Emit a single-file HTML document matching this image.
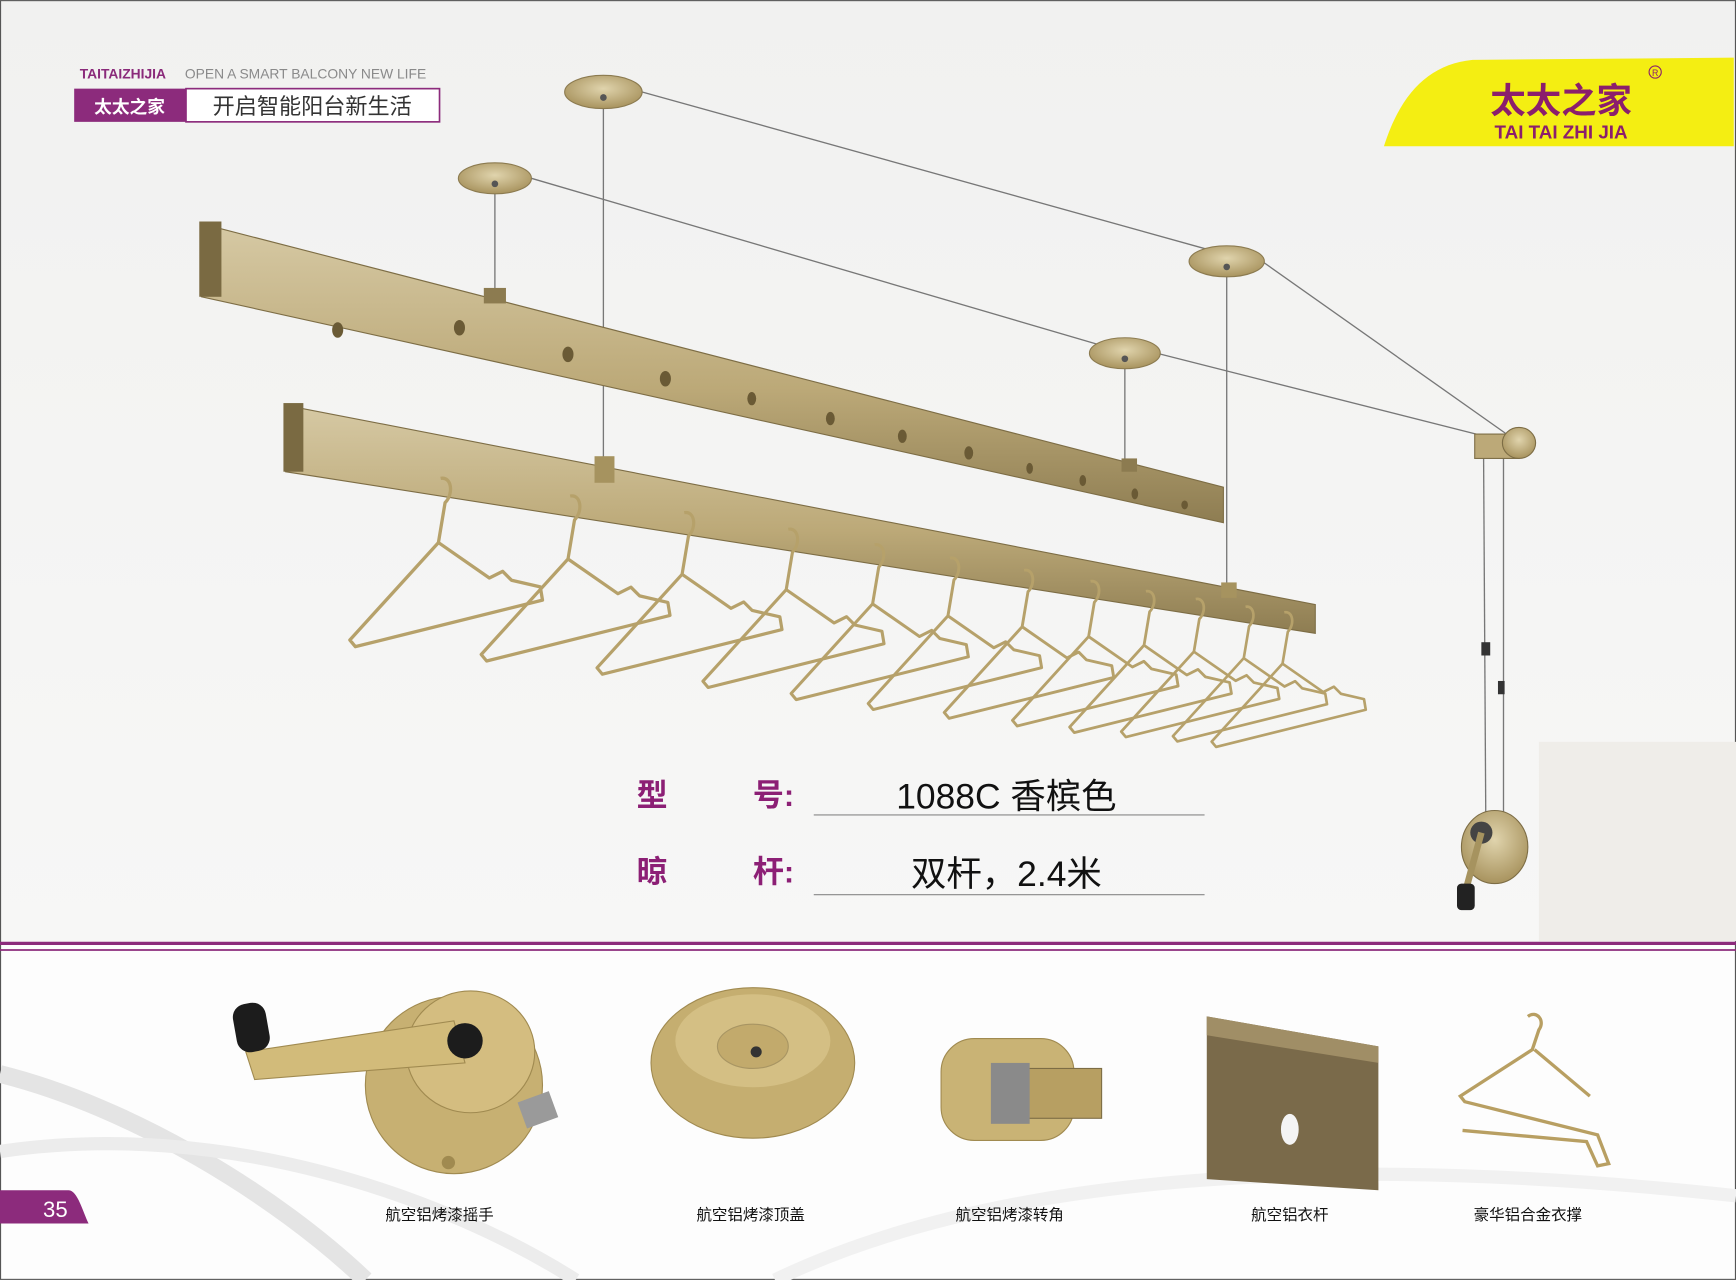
<!DOCTYPE html>
<html><head><meta charset="utf-8"><style>
html,body{margin:0;padding:0;background:#fff}
svg{display:block}
text{font-family:"Liberation Sans","Noto Sans CJK SC",sans-serif}
</style></head><body>
<svg width="1736" height="1280" viewBox="0 0 1568 1156" xmlns="http://www.w3.org/2000/svg">
<defs>
<linearGradient id="bg" x1="0" y1="0" x2="0" y2="1"><stop offset="0" stop-color="#f1f1f0"/><stop offset="1" stop-color="#f7f7f6"/></linearGradient>
<linearGradient id="rail" x1="0" y1="0" x2="0" y2="1"><stop offset="0" stop-color="#d6c9a4"/><stop offset="0.55" stop-color="#bca978"/><stop offset="1" stop-color="#8e7d52"/></linearGradient>
<radialGradient id="disc" cx="0.5" cy="0.4" r="0.6"><stop offset="0" stop-color="#e0d4ad"/><stop offset="1" stop-color="#a8935e"/></radialGradient>
<path id="hg" d="M0 0 c10 -2 12 14 4 22 L-2 58 L-82 146 L-77 152 L92 110 L90 98 L64 92 L56 84 L44 90 L-2 58" fill="none" stroke="#b6a16a" stroke-width="3" stroke-linejoin="round"/>
</defs>
<rect x="0" y="0" width="1568" height="852" fill="url(#bg)"/>
<rect x="0" y="852" width="1568" height="304" fill="#fdfdfd"/>
<rect x="0.5" y="0.5" width="1567" height="1155" fill="none" stroke="#555" stroke-width="1"/>
<path d="M0 970 C120 1000 250 1080 330 1156" fill="none" stroke="#e4e4e4" stroke-width="16"/>
<path d="M0 1040 C200 1010 400 1080 520 1156" fill="none" stroke="#ececec" stroke-width="12"/>
<path d="M700 1156 C900 1060 1200 1040 1568 1080" fill="none" stroke="#f1f1f1" stroke-width="12"/>
<rect x="1390" y="670" width="178" height="180" fill="#efede9"/>
<!-- header -->
<text x="72" y="71" font-size="12.5" fill="#8a2a7a" font-weight="bold">TAITAIZHIJIA</text>
<text x="167" y="71" font-size="12.5" fill="#8a8a8a">OPEN A SMART BALCONY NEW LIFE</text>
<rect x="67" y="80" width="101" height="30" fill="#8c2b7c"/>
<text x="117" y="102" font-size="16" fill="#fff" font-weight="bold" text-anchor="middle">太太之家</text>
<rect x="168" y="80" width="229" height="30" fill="#fff" stroke="#8c2b7c" stroke-width="1.5"/>
<text x="282" y="103" font-size="20" fill="#333" text-anchor="middle">开启智能阳台新生活</text>
<!-- logo -->
<path d="M1250 132 C1265 85 1290 58 1330 54 L1566 52 L1566 132 Z" fill="#f4ee12"/>
<text x="1410" y="102" font-size="32" font-weight="bold" fill="#8b1e6c" text-anchor="middle">太太之家</text>
<text x="1410" y="125" font-size="17" font-weight="bold" fill="#8b1e6c" text-anchor="middle">TAI TAI ZHI JIA</text>
<circle cx="1495" cy="65" r="5.5" fill="none" stroke="#8b1e6c" stroke-width="1"/>
<text x="1495" y="68.5" font-size="8" fill="#8b1e6c" text-anchor="middle">R</text>
<!-- cables -->
<g stroke="#777" stroke-width="1.2" fill="none">
<line x1="580" y1="83" x2="1090" y2="225"/>
<line x1="480" y1="161" x2="995" y2="312"/>
<line x1="1140" y1="236" x2="1365" y2="395"/>
<line x1="1045" y1="319" x2="1345" y2="395"/>
<line x1="545" y1="97" x2="545" y2="415"/>
<line x1="447" y1="175" x2="447" y2="262"/>
<line x1="1108" y1="250" x2="1108" y2="530"/>
<line x1="1016" y1="333" x2="1016" y2="420"/>
<line x1="1340" y1="410" x2="1342" y2="740"/>
<line x1="1358" y1="410" x2="1358" y2="740"/>
</g>
<g fill="url(#disc)" stroke="#8c7b50" stroke-width="1">
<ellipse cx="545" cy="83" rx="35" ry="15"/>
<ellipse cx="447" cy="161" rx="33" ry="14"/>
<ellipse cx="1108" cy="236" rx="34" ry="14"/>
<ellipse cx="1016" cy="319" rx="32" ry="14"/>
</g>
<g fill="#555"><circle cx="545" cy="88" r="3"/><circle cx="447" cy="166" r="3"/><circle cx="1108" cy="241" r="3"/><circle cx="1016" cy="324" r="3"/></g>
<!-- upper rail -->
<polygon points="182,202 1105,440 1105,472 182,268" fill="url(#rail)" stroke="#7d6d45" stroke-width="1"/>
<rect x="180" y="200" width="20" height="68" fill="#7a6a42"/>
<g fill="#6a5a35">
<ellipse cx="305" cy="298" rx="5" ry="7"/><ellipse cx="415" cy="296" rx="5" ry="7"/><ellipse cx="513" cy="320" rx="5" ry="7"/><ellipse cx="601" cy="342" rx="5" ry="7"/><ellipse cx="679" cy="360" rx="4" ry="6"/><ellipse cx="750" cy="378" rx="4" ry="6"/><ellipse cx="815" cy="394" rx="4" ry="6"/><ellipse cx="875" cy="409" rx="4" ry="6"/><ellipse cx="930" cy="423" rx="3" ry="5"/><ellipse cx="978" cy="434" rx="3" ry="5"/><ellipse cx="1025" cy="446" rx="3" ry="5"/><ellipse cx="1070" cy="456" rx="3" ry="4"/>
</g>
<rect x="437" y="260" width="20" height="14" fill="#8c7b50"/>
<rect x="1013" y="414" width="14" height="12" fill="#8c7b50"/>
<!-- lower rail -->
<polygon points="258,366 1188,546 1188,572 258,426" fill="url(#rail)" stroke="#7d6d45" stroke-width="1"/>
<rect x="256" y="364" width="18" height="62" fill="#7a6a42"/>
<rect x="537" y="412" width="18" height="24" fill="#a6935f"/>
<rect x="1103" y="526" width="14" height="14" fill="#a6935f"/>
<!-- hangers -->
<use href="#hg" transform="translate(398 432)"/>
<use href="#hg" transform="translate(515 448) scale(0.98)"/>
<use href="#hg" transform="translate(618 463) scale(0.96)"/>
<use href="#hg" transform="translate(712 478) scale(0.94)"/>
<use href="#hg" transform="translate(790 492) scale(0.92)"/>
<use href="#hg" transform="translate(858 504) scale(0.9)"/>
<use href="#hg" transform="translate(925 515) scale(0.88)"/>
<use href="#hg" transform="translate(985 525) scale(0.86)"/>
<use href="#hg" transform="translate(1035 534) scale(0.84)"/>
<use href="#hg" transform="translate(1080 541) scale(0.82)"/>
<use href="#hg" transform="translate(1125 548) scale(0.8)"/>
<use href="#hg" transform="translate(1160 553) scale(0.8)"/>
<!-- pulley and crank -->
<rect x="1332" y="392" width="40" height="22" fill="#bca978" stroke="#7d6d45"/>
<ellipse cx="1372" cy="400" rx="15" ry="14" fill="url(#disc)" stroke="#7d6d45"/>
<rect x="1338" y="580" width="8" height="12" fill="#333"/><rect x="1353" y="615" width="6" height="12" fill="#333"/>
<ellipse cx="1350" cy="765" rx="30" ry="33" fill="url(#disc)" stroke="#7d6d45"/>
<circle cx="1338" cy="752" r="10" fill="#444"/>
<path d="M1338 752 L1325 800" stroke="#a6935f" stroke-width="6"/>
<rect x="1316" y="798" width="16" height="24" rx="4" fill="#222"/>
<!-- specs -->
<g font-size="28" font-weight="bold" fill="#8c1f75">
<text x="575" y="728">型</text><text x="680" y="728">号:</text>
<text x="575" y="797">晾</text><text x="680" y="797">杆:</text>
</g>
<text x="909" y="730" font-size="32" fill="#111" text-anchor="middle">1088C  香槟色</text>
<text x="909" y="800" font-size="32" fill="#111" text-anchor="middle">双杆，2.4米</text>
<line x1="735" y1="736" x2="1088" y2="736" stroke="#888" stroke-width="1"/>
<line x1="735" y1="808" x2="1088" y2="808" stroke="#888" stroke-width="1"/>
<line x1="0" y1="852" x2="1568" y2="852" stroke="#8c2b7c" stroke-width="3"/>
<line x1="0" y1="858" x2="1568" y2="858" stroke="#8c2b7c" stroke-width="1.5"/>
<!-- products -->
<circle cx="410" cy="980" r="80" fill="#c7b072" stroke="#a08a50"/>
<ellipse cx="425" cy="950" rx="58" ry="55" fill="#d4bd80" stroke="#a08a50"/>
<rect x="470" y="990" width="30" height="25" fill="#9a9a9a" transform="rotate(-20 485 1000)"/>
<polygon points="222,950 410,922 420,960 230,975" fill="#d2bb7a" stroke="#a08a50"/>
<circle cx="420" cy="940" r="16" fill="#1c1c1c"/>
<rect x="212" y="906" width="30" height="44" rx="12" fill="#1c1c1c" transform="rotate(-10 227 928)"/>
<circle cx="405" cy="1050" r="6" fill="#a08a50"/>
<ellipse cx="680" cy="960" rx="92" ry="68" fill="#c5ae70" stroke="#a08a50"/>
<ellipse cx="680" cy="940" rx="70" ry="42" fill="#d4bf84"/>
<ellipse cx="680" cy="945" rx="32" ry="20" fill="#c2aa6c" stroke="#a89563"/>
<circle cx="683" cy="950" r="5" fill="#333"/>
<rect x="850" y="938" width="120" height="92" rx="30" fill="#c9b375" stroke="#a08a50"/>
<rect x="915" y="965" width="80" height="45" fill="#b79f62" stroke="#7d6d45"/>
<rect x="895" y="960" width="35" height="55" fill="#8a8a8a"/>
<polygon points="1090,918 1245,945 1245,1075 1090,1065" fill="#7a6a4a"/>
<polygon points="1090,918 1245,945 1245,960 1090,935" fill="#a08e66"/>
<ellipse cx="1165" cy="1020" rx="8" ry="14" fill="#f4f4f4"/>
<path d="M1380 918 c8 -6 16 4 10 12 l-6 18 l-65 42 l4 5 l120 30 l10 26 l-10 2 l-10 -22 l-112 -10 M1386 948 l50 42" fill="none" stroke="#b89f62" stroke-width="3"/>
<g font-size="14" fill="#111" text-anchor="middle">
<text x="397" y="1102">航空铝烤漆摇手</text>
<text x="678" y="1102">航空铝烤漆顶盖</text>
<text x="912" y="1102">航空铝烤漆转角</text>
<text x="1165" y="1102">航空铝衣杆</text>
<text x="1380" y="1102">豪华铝合金衣撑</text>
</g>
<path d="M0 1075 L62 1075 C70 1075 75 1095 80 1105 L0 1105 Z" fill="#8c2b7c"/>
<text x="50" y="1099" font-size="20" fill="#fff" text-anchor="middle">35</text>
</svg>
</body></html>
